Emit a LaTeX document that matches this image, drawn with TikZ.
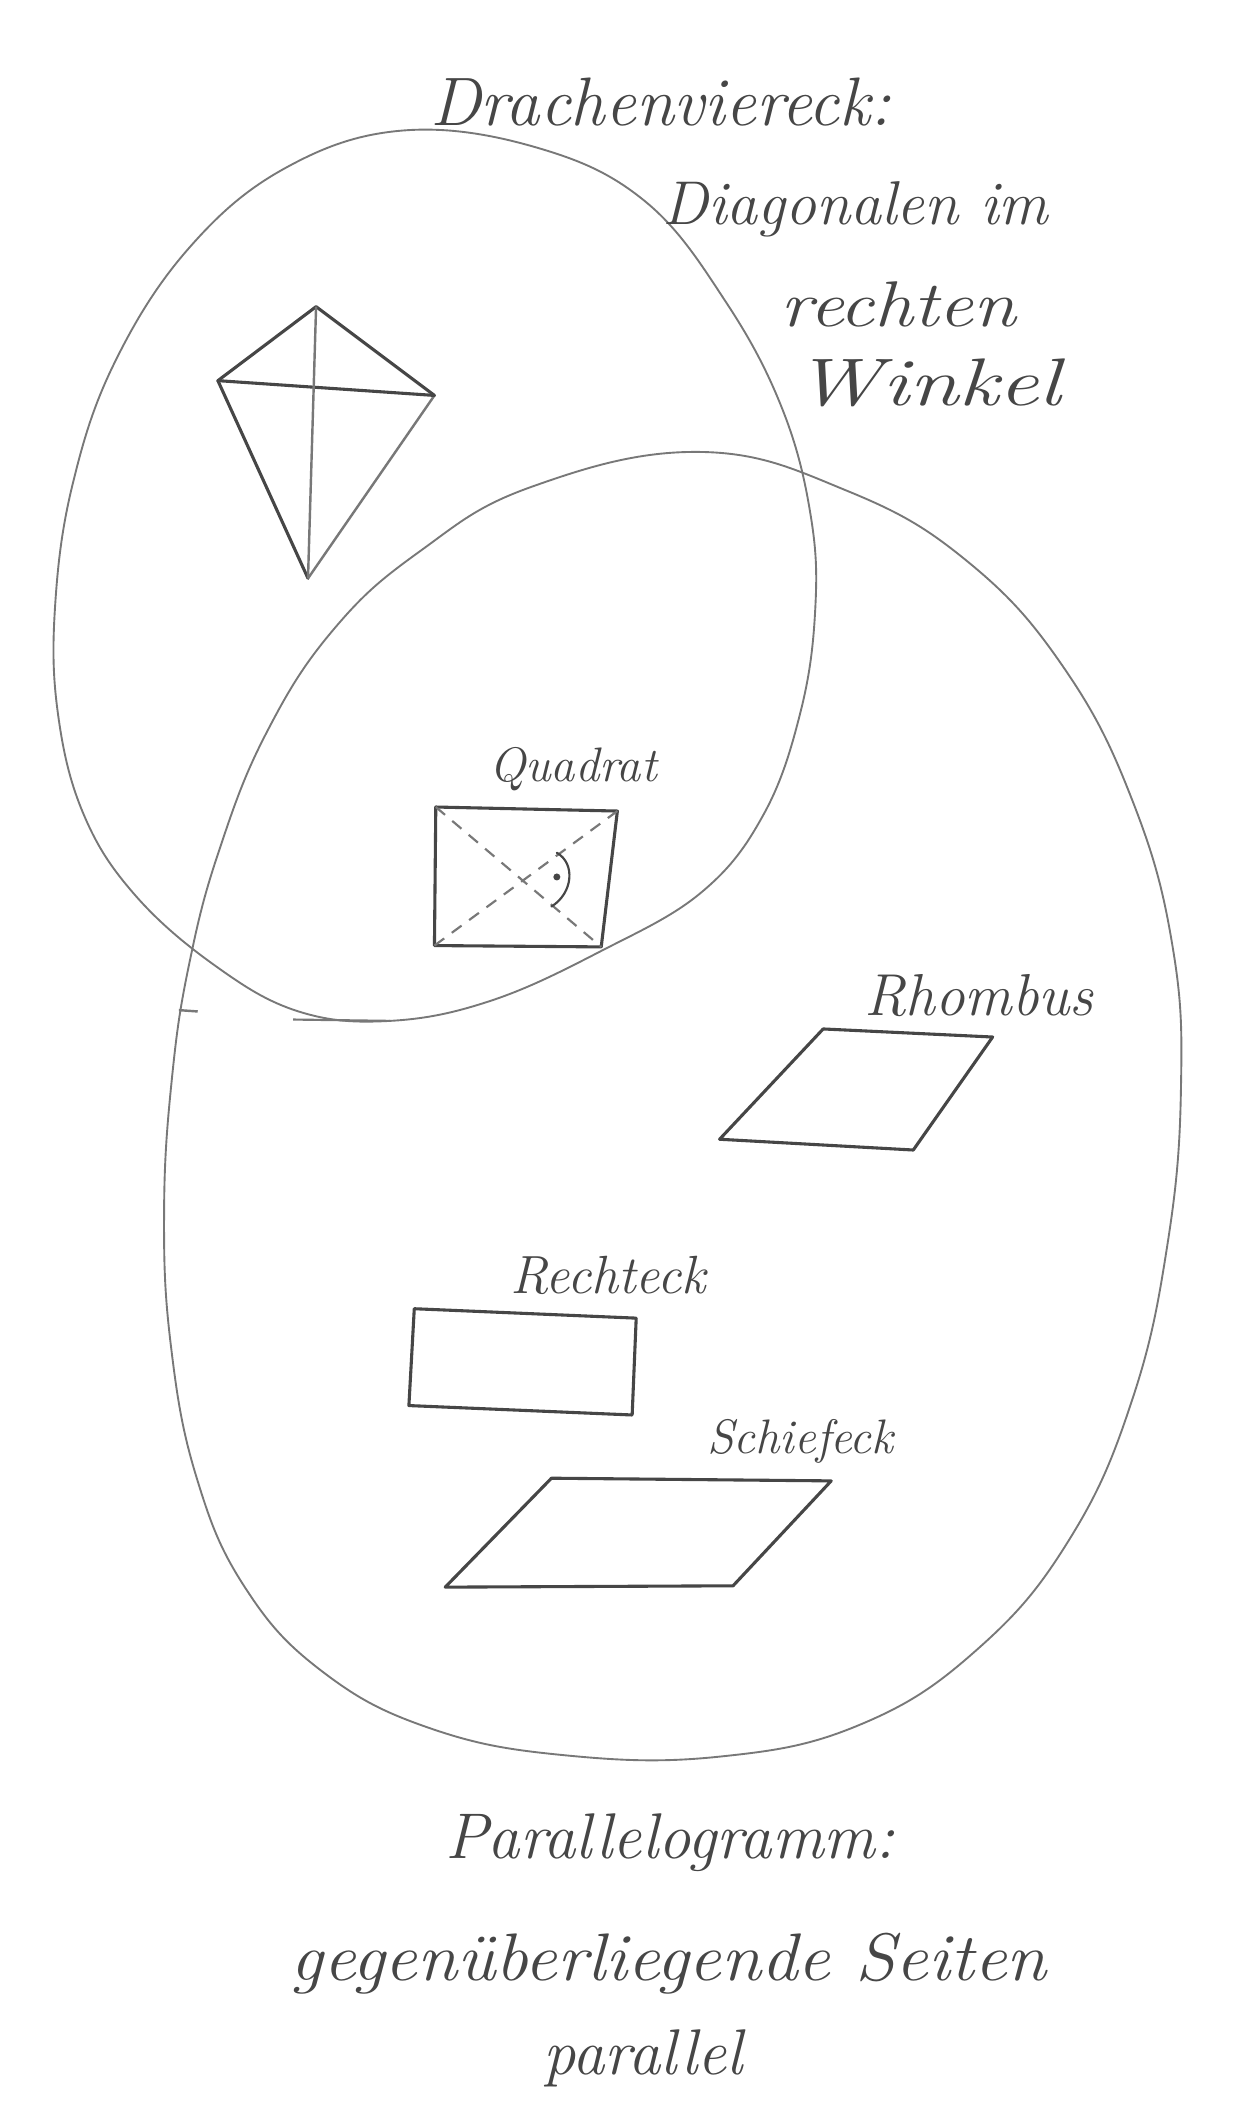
\documentclass[tikz,border=0pt]{standalone}
\usetikzlibrary{calc}
\definecolor{pen}{RGB}{70,70,70}
\definecolor{lightpen}{RGB}{120,120,120}
\tikzset{
  loopline/.style={draw=lightpen, line width=1.4pt},
  figline/.style={draw=pen, line width=2.3pt, line join=round, line cap=round},
  diagline/.style={draw=lightpen, line width=1.6pt},
  hand/.style={text=pen, inner sep=0pt, font=\itshape},
}
\begin{document}
\begin{tikzpicture}[x=1pt,y=-1pt]
\useasboundingbox[fill=white] (0,0) rectangle (917,1568);

% Drachenviereck loop
\draw[loopline] plot[smooth cycle, tension=0.65] coordinates {
 (300,97) (400,110) (480,150) (540,225) (582,305) (603,385) (606,455) (595,530)
 (568,605) (522,663) (447,707) (365,744) (290,759) (222,752) (160,718)
 (100,665) (62,605) (43,530) (41,450) (54,360) (85,270) (140,185) (212,125)};

% small tick marks
\coordinate (m1) at (133,751);
\coordinate (m2) at (147,752);
\draw[loopline, line width=1.8pt] (m1) -- (m2);
\coordinate (m3) at (218,758);
\coordinate (m4) at (290,759);
\draw[loopline, line width=1.6pt] (m3) -- (m4);

% Parallelogramm loop
\draw[loopline] plot[smooth cycle, tension=0.7] coordinates {
 (520,336) (630,365) (720,418) (792,498) (843,598) (872,705) (878,810)
 (868,925) (842,1040) (796,1143) (728,1225) (640,1282) (535,1306) (420,1305)
 (320,1285) (240,1243) (182,1180) (146,1098) (127,1000) (122,900) (128,800)
 (141,715) (163,632) (198,545) (248,468) (312,410) (395,362)};

% Kite
\coordinate (kT) at (235,228);
\coordinate (kL) at (162,283);
\coordinate (kR) at (323,294);
\coordinate (kB) at (229,430);
\draw[figline] (kL) -- (kT) -- (kR);
\draw[figline] (kL) -- (kB);
\draw[diagline, line width=1.8pt] (kR) -- (kB);
\draw[figline] (kL) -- (kR);
\draw[diagline, line width=1.8pt] (kT) -- (kB);

% Quadrat
\coordinate (qTL) at (324,600);
\coordinate (qTR) at (459,603);
\coordinate (qBR) at (447,704);
\coordinate (qBL) at (323,703);
\draw[figline] (qTL) -- (qTR) -- (qBR) -- (qBL) -- cycle;
\draw[diagline, dash pattern=on 9pt off 7pt] (qTL) -- (qBR);
\draw[diagline, dash pattern=on 9pt off 7pt] (qBL) -- (qTR);
\coordinate (qA1) at (414,634);
\coordinate (qA2) at (410,674);
\draw[figline, line width=1.6pt] (qA1) .. controls (428,642) and (426,664) .. (qA2);
\fill[pen] (414,652) circle (2.6pt);

% Rhombus
\coordinate (rTL) at (612,765);
\coordinate (rTR) at (738,771);
\coordinate (rBR) at (679,855);
\coordinate (rBL) at (535,847);
\draw[figline] (rTL) -- (rTR) -- (rBR) -- (rBL) -- cycle;

% Rechteck
\coordinate (eTL) at (308,973);
\coordinate (eTR) at (473,980);
\coordinate (eBR) at (470,1052);
\coordinate (eBL) at (304,1045);
\draw[figline] (eTL) -- (eTR) -- (eBR) -- (eBL) -- cycle;

% Schiefeck
\coordinate (sTL) at (410,1099);
\coordinate (sTR) at (618,1101);
\coordinate (sBR) at (545,1179);
\coordinate (sBL) at (331,1180);
\draw[figline] (sTL) -- (sTR) -- (sBR) -- (sBL) -- cycle;

% Texts
\node[hand, font=\fontsize{51}{56}\selectfont\itshape] (t1) at (491,76) {Drachenviereck:};
\node[hand, font=\fontsize{46}{52}\selectfont\itshape] (t2) at (636,156) {Diagonalen im};
\node[hand, font=\fontsize{48}{52}\selectfont\itshape] (t3) at (668,226) {\scalebox{1.2}[1]{rechten}};
\node[hand, font=\fontsize{50}{56}\selectfont\itshape] (t4) at (690,285) {\scalebox{1.33}[1]{Winkel}};
\node[hand, font=\fontsize{36}{42}\selectfont\itshape] (l1) at (426,572) {Quadrat};
\node[hand, font=\fontsize{44}{50}\selectfont\itshape] (l2) at (728,740) {Rhombus};
\node[hand, font=\fontsize{40}{46}\selectfont\itshape] (l3) at (452,948) {Rechteck};
\node[hand, font=\fontsize{36}{42}\selectfont\itshape] (l4) at (595,1072) {Schiefeck};
\node[hand, font=\fontsize{48}{54}\selectfont\itshape] (b1) at (498,1370) {Parallelogramm:};
\node[hand, font=\fontsize{50}{54}\selectfont\itshape] (b2) at (497,1460) {\scalebox{1.08}[1]{gegenüberliegende Seiten}};
\node[hand, font=\fontsize{48}{54}\selectfont\itshape] (b3) at (478,1530) {parallel};
\end{tikzpicture}
\end{document}
